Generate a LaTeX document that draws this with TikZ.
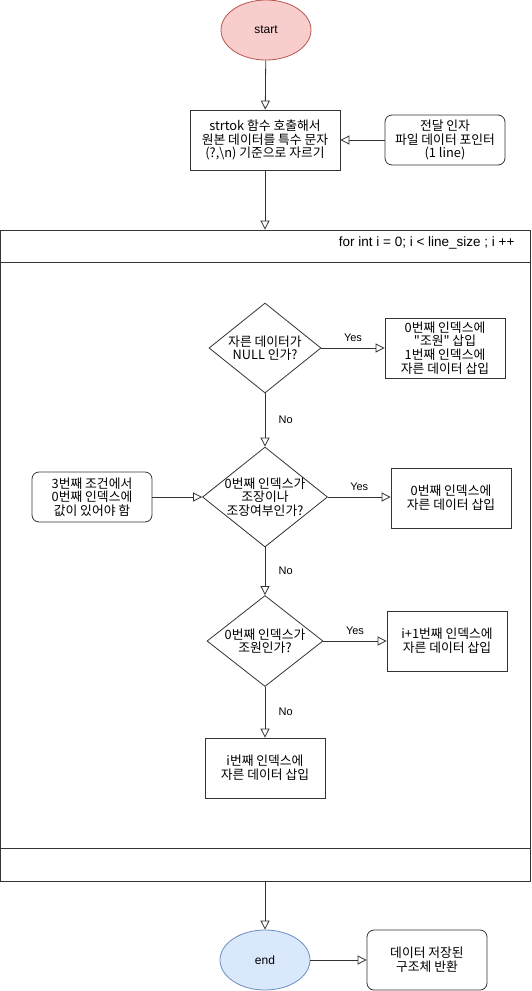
\documentclass[tikz,border=0pt]{standalone}
\usepackage{fontspec}
\setmainfont{Liberation Sans}
\newfontfamily\kor{Noto Sans CJK KR}
\usetikzlibrary{arrows.meta,shapes.geometric}
\definecolor{startfill}{HTML}{F8CECC}
\definecolor{startline}{HTML}{B85450}
\definecolor{endfill}{HTML}{DAE8FC}
\definecolor{endline}{HTML}{6C8EBF}
\tikzset{
	flow/.style={draw=black!80, line width=0.8pt, -{Triangle[open,length=9pt,width=9pt]}},
	procbox/.style={draw=black!80, line width=0.8pt, minimum width=120pt, minimum height=60pt, inner sep=2pt, align=center, font=\kor\fontsize{12.8}{13.6}\selectfont},
	notebox/.style={procbox, rounded corners=7pt},
	decision/.style={diamond, draw=black!80, line width=0.8pt, inner sep=0pt},
	dtext/.style={align=center, inner sep=0pt, font=\kor\fontsize{12.8}{13.6}\selectfont},
	terminal/.style={ellipse, line width=0.8pt, minimum width=90pt, minimum height=60pt, font=\fontsize{12}{14}\selectfont},
	branch/.style={font=\fontsize{11}{13}\selectfont}
}
\begin{document}
\begin{tikzpicture}[x=1pt,y=-1pt]
	\useasboundingbox (0,0) rectangle (531,991);
	
	\node[terminal, draw=startline, fill=startfill] (start) at (266,30) {start};
	\node[procbox, minimum width=150pt] (split) at (265,140) {strtok 함수 호출해서\\원본 데이터를 특수 문자\\(?,\textbackslash n) 기준으로 자르기};
	\node[notebox, minimum height=50pt] (arg) at (445,140) {전달 인자\\파일 데이터 포인터\\(1 line)};
	
	% loop box
	\node[draw=black!80, line width=0.8pt, minimum width=529.5pt, minimum height=651pt, inner sep=0pt] (loop) at (265.25,555.5) {};
	\draw[black!80, line width=0.8pt] ([yshift=-33pt]loop.north west) -- ([yshift=-33pt]loop.north east);
	\draw[black!80, line width=0.8pt] ([yshift=33pt]loop.south west) -- ([yshift=33pt]loop.south east);
	\node[anchor=east, font=\fontsize{13.5}{15}\selectfont] (looplabel) at (518,243) {for int i = 0; i < line\_size ; i ++};
	
	\node[decision, minimum width=112pt, minimum height=90pt, label={[dtext]center:자른 데이터가\\NULL 인가?}] (null) at (265,348) {};
	\node[procbox] (first) at (445,348) {0번째 인덱스에\\"조원" 삽입\\1번째 인덱스에\\자른 데이터 삽입};
	
	\node[decision, minimum width=125pt, minimum height=100pt, label={[dtext]center:0번째 인덱스가\\조장이나\\조장여부인가?}] (leader) at (265,497) {};
	\node[notebox, minimum height=50pt] (cond) at (92,497) {3번째 조건에서\\0번째 인덱스에\\값이 있어야 함};
	\node[procbox] (zero) at (451,498) {0번째 인덱스에\\자른 데이터 삽입};
	
	\node[decision, minimum width=116pt, minimum height=91pt, label={[dtext]center:0번째 인덱스가\\조원인가?}] (member) at (265,641) {};
	\node[procbox] (next) at (447,641) {i+1번째 인덱스에\\자른 데이터 삽입};
	
	\node[procbox] (cur) at (265,768) {i번째 인덱스에\\자른 데이터 삽입};
	
	\node[terminal, draw=endline, fill=endfill] (end) at (265,960) {end};
	\node[notebox] (ret) at (427,960) {데이터 저장된\\구조체 반환};
	
	\draw[flow] (start) -- (split);
	\draw[flow] (arg) -- (split);
	\draw[flow] (split) -- (loop.north -| split);
	
	\draw[flow] (null) -- node[branch, midway, above=3pt]{Yes} (first);
	\draw[flow] (null) -- node[branch, midway, right=10pt]{No} (leader);
	\draw[flow] (cond) -- (leader);
	\draw[flow] (leader) -- node[branch, midway, above=3pt]{Yes} (zero.west |- leader);
	\draw[flow] (leader) -- node[branch, midway, right=10pt]{No} (member);
	\draw[flow] (member) -- node[branch, midway, above=3pt]{Yes} (next);
	\draw[flow] (member) -- node[branch, midway, right=10pt]{No} (cur);
	
	\draw[flow] (loop.south -| end) -- (end);
	\draw[flow] (end) -- (ret);
\end{tikzpicture}
\end{document}
